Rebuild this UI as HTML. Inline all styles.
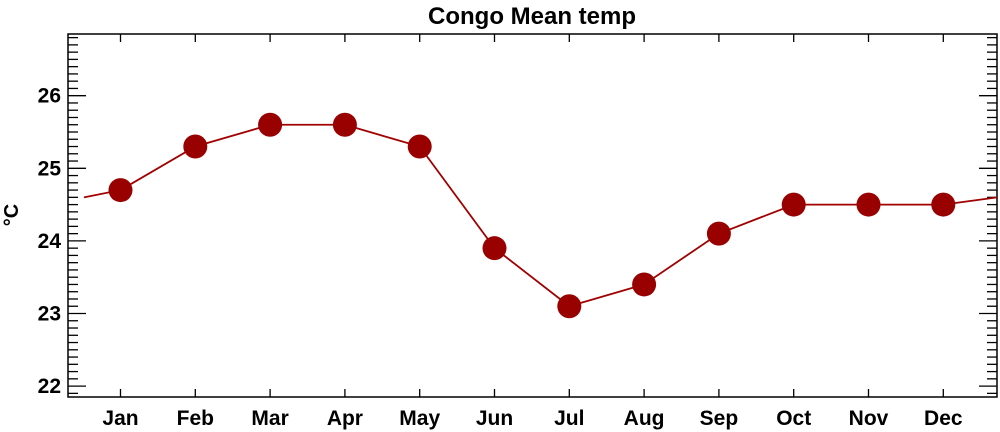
<!DOCTYPE html>
<html><head><style>body{margin:0;background:#fff}svg{display:block}</style></head><body>
<svg width="1000" height="432" xmlns="http://www.w3.org/2000/svg" font-family="Liberation Sans, sans-serif" font-weight="bold">
<text x="532" y="24" font-size="24" text-anchor="middle">Congo Mean temp</text>
<g stroke="#000" stroke-width="1.5" fill="none">
<rect x="68" y="34" width="929" height="363"/>
</g>
<g id="ticks" stroke="#000" stroke-width="1.3"></g>
<g id="labs" font-size="21"></g>
<text transform="translate(18,215) rotate(-90)" font-size="20" text-anchor="middle">°C</text>
<g id="data"></g>
<script>
var ns="http://www.w3.org/2000/svg";
function Y(v){return 95.7+(26-v)*72.6;}
function X(i){return 120.5+i*74.8;}
var t=document.getElementById('ticks'),l=document.getElementById('labs'),d=document.getElementById('data');
function line(g,x1,y1,x2,y2){var e=document.createElementNS(ns,'line');e.setAttribute('x1',x1);e.setAttribute('y1',y1);e.setAttribute('x2',x2);e.setAttribute('y2',y2);g.appendChild(e);}
function txt(g,x,y,s,a){var e=document.createElementNS(ns,'text');e.setAttribute('x',x);e.setAttribute('y',y);e.setAttribute('text-anchor',a);e.textContent=s;g.appendChild(e);}
for(var k=219;k<=268;k++){var v=k/10,y=Y(v);if(y<35||y>396)continue;var L=(k%10==0)?18:10;line(t,68,y,68+L,y);line(t,997,y,997-L,y);if(k%10==0)txt(l,61,y+7,String(k/10),'end');}
var m=['Jan','Feb','Mar','Apr','May','Jun','Jul','Aug','Sep','Oct','Nov','Dec'];
var v=[24.7,25.3,25.6,25.6,25.3,23.9,23.1,23.4,24.1,24.5,24.5,24.5];
for(var i=0;i<12;i++){var x=X(i);line(t,x,397,x,389);line(t,x,34,x,42);txt(l,x,425,m[i],'middle');}
var pts=[[84,Y(24.6)]];for(i=0;i<12;i++)pts.push([X(i),Y(v[i])]);pts.push([997,Y(24.6)]);
var p=document.createElementNS(ns,'polyline');p.setAttribute('points',pts.map(function(a){return a.join(',')}).join(' '));p.setAttribute('fill','none');p.setAttribute('stroke','#a00000');p.setAttribute('stroke-width','1.8');d.appendChild(p);
for(i=0;i<12;i++){var c=document.createElementNS(ns,'circle');c.setAttribute('cx',X(i));c.setAttribute('cy',Y(v[i]));c.setAttribute('r','12');c.setAttribute('fill','#990000');d.appendChild(c);}
</script>
</svg>
</body></html>
